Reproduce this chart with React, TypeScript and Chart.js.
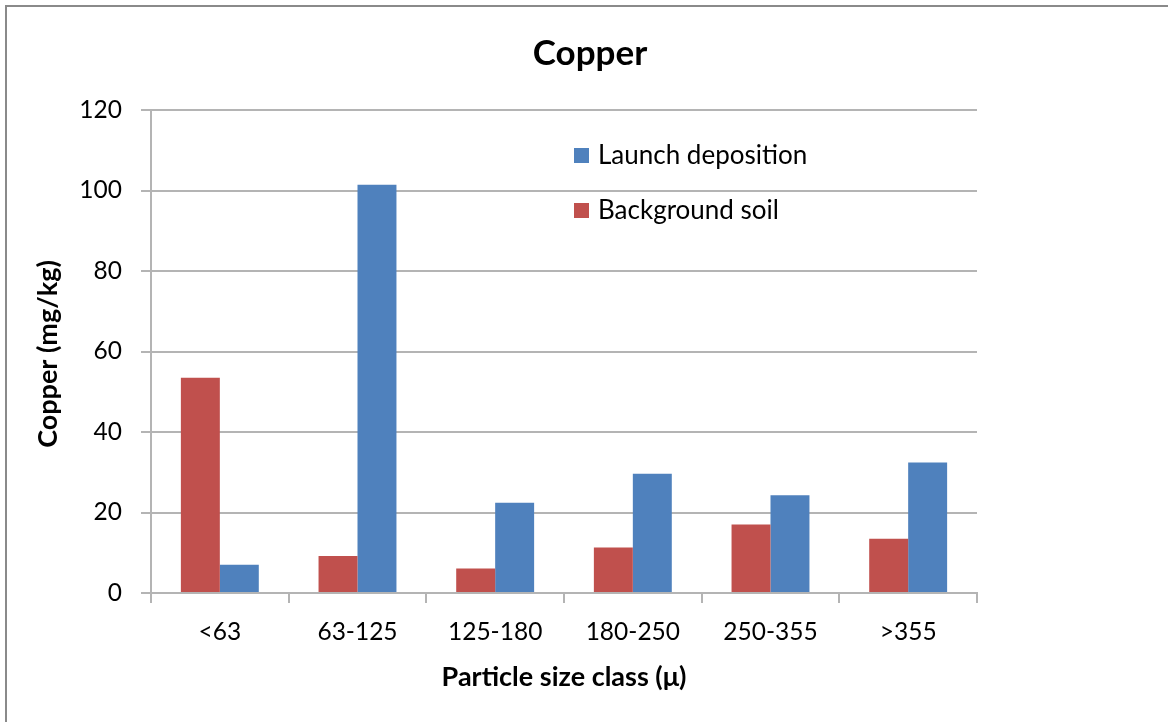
import React, { useEffect, useRef } from "react";
import { Chart, registerables } from "chart.js";

Chart.register(...registerables);

const categories = ["<63", "63-125", "125-180", "180-250", "250-355", ">355"];
const backgroundSoil = [53.5, 9.2, 6.1, 11.3, 17.0, 13.5];
const launchDeposition = [7.0, 101.4, 22.4, 29.6, 24.3, 32.4];
const yTickValues = [0, 20, 40, 60, 80, 100, 120];

const chartTitle = "Copper";
const yAxisTitle = "Copper (mg/kg)";
const xAxisTitle = "Particle size class (\u03bc)";
const seriesNames = ["Background soil", "Launch deposition"];
const seriesColors = ["#C0504D", "#4F81BD"];

const FONT = "Lato, 'Open Sans', sans-serif";
const GRID = "#b4b4b4";

const decorPlugin = {
  id: "decor",
  afterDraw(chart: any) {
    const ctx = chart.ctx as CanvasRenderingContext2D;
    const area = chart.chartArea;
    ctx.save();
    // outer frame (left + top)
    ctx.fillStyle = "#8a8a8a";
    ctx.fillRect(5, 5, 2, chart.height - 5);
    ctx.fillRect(5, 5, chart.width - 5, 2);

    ctx.fillStyle = "#000";
    // title
    ctx.font = `bold 35px ${FONT}`;
    ctx.textAlign = "center";
    ctx.textBaseline = "alphabetic";
    ctx.fillText(chartTitle, 590, 65);

    // x axis title
    ctx.font = `bold 27px ${FONT}`;
    ctx.fillText(xAxisTitle, (area.left + area.right) / 2, 686);

    // y axis title
    ctx.save();
    ctx.translate(57, 354);
    ctx.rotate(-Math.PI / 2);
    ctx.fillText(yAxisTitle, 0, 0);
    ctx.restore();

    // legend (Launch deposition first)
    const items = [
      { name: seriesNames[1], color: seriesColors[1], y: 148 },
      { name: seriesNames[0], color: seriesColors[0], y: 203 },
    ];
    ctx.font = `26px ${FONT}`;
    ctx.textAlign = "left";
    ctx.textBaseline = "alphabetic";
    for (const it of items) {
      ctx.fillStyle = it.color;
      ctx.fillRect(574, it.y, 15, 15);
      ctx.fillStyle = "#000";
      ctx.fillText(it.name, 598, it.y + 16);
    }
    ctx.restore();
  },
};

export default function App() {
  const ref = useRef<HTMLCanvasElement | null>(null);

  useEffect(() => {
    if (!ref.current) return;
    const chart = new Chart(ref.current, {
      type: "bar",
      data: {
        labels: categories,
        datasets: [
          {
            label: seriesNames[0],
            data: backgroundSoil,
            backgroundColor: seriesColors[0],
            borderWidth: 0,
            barPercentage: 1,
            categoryPercentage: 0.566,
          },
          {
            label: seriesNames[1],
            data: launchDeposition,
            backgroundColor: seriesColors[1],
            borderWidth: 0,
            barPercentage: 1,
            categoryPercentage: 0.566,
          },
        ],
      },
      options: {
        responsive: false,
        animation: false,
        layout: { padding: { left: 0, right: 191, top: 110, bottom: 0 } },
        plugins: {
          legend: { display: false },
          title: { display: false },
          tooltip: { enabled: false },
        },
        scales: {
          x: {
            afterFit(scale: any) {
              scale.height = 129;
            },
            grid: {
              offset: true,
              drawOnChartArea: false,
              drawTicks: true,
              tickLength: 10,
              color: GRID,
              lineWidth: 2,
            },
            border: { display: true, color: GRID, width: 2 },
            ticks: {
              color: "#000",
              font: { family: FONT, size: 24.5 },
              padding: 14,
              maxRotation: 0,
            },
          },
          y: {
            min: 0,
            max: 120,
            afterFit(scale: any) {
              scale.width = 151;
            },
            afterBuildTicks(scale: any) {
              scale.ticks = yTickValues.map((v) => ({ value: v }));
            },
            grid: {
              drawTicks: true,
              tickLength: 10,
              color: GRID,
              lineWidth: 2,
            },
            border: { display: true, color: GRID, width: 2 },
            ticks: {
              color: "#000",
              font: { family: FONT, size: 24.5 },
              padding: 19,
            },
          },
        },
      },
      plugins: [decorPlugin],
    });
    return () => chart.destroy();
  }, []);

  return (
    <div style={{ position: "absolute", left: 0, top: 0, width: 1168, height: 722, background: "#fff" }}>
      <canvas ref={ref} width={1168} height={722} style={{ display: "block" }} />
    </div>
  );
}
